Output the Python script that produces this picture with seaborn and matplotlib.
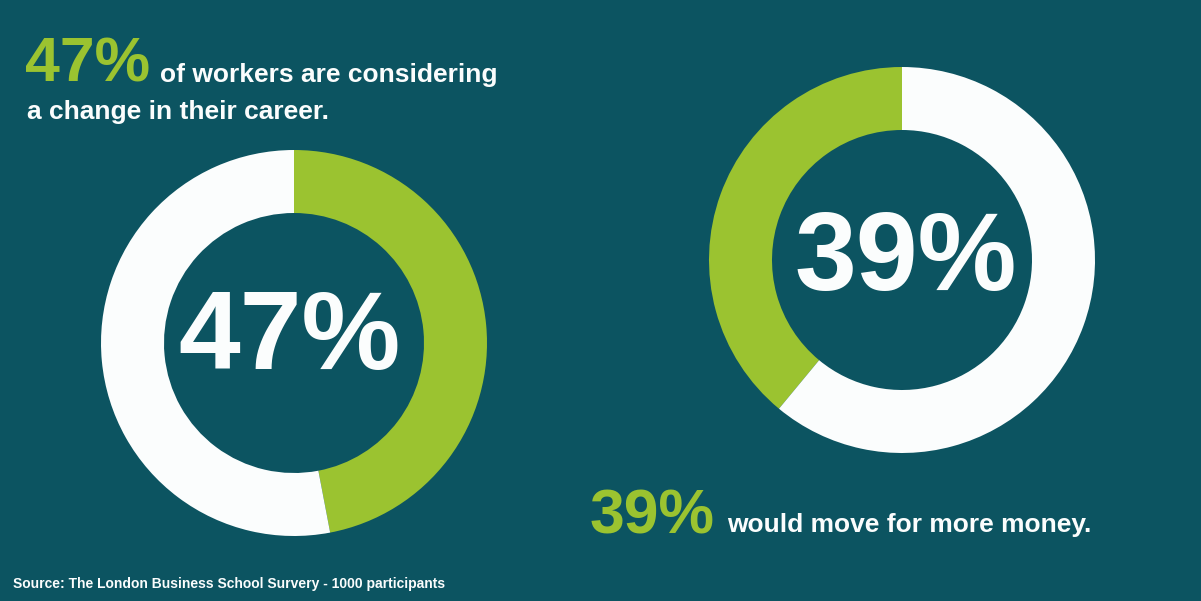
import matplotlib
matplotlib.use("Agg")
import matplotlib.pyplot as plt
import seaborn as sns

# ---- data ----
left_labels = ["Considering a change", "Not considering"]
left_values = [47, 53]
right_labels = ["Would move for money", "Would not"]
right_values = [39, 61]
left_headline = "47%"
left_caption_1 = "of workers are considering"
left_caption_2 = "a change in their career."
right_headline = "39%"
right_caption = "would move for more money."
source_text = "Source: The London Business School Survery - 1000 participants"

BG = "#0c5461"
GREEN = "#9bc330"
WHITE = "#fbfdfd"

sns.set_theme(style="white")
plt.rcParams['font.family'] = ['Liberation Sans', 'DejaVu Sans']

W, H = 1201, 601
fig = plt.figure(figsize=(W / 100, H / 100), dpi=100)
fig.patch.set_facecolor(BG)
ax = fig.add_axes([0, 0, 1, 1])
ax.set_facecolor(BG)

def py(y):
    return H - y

palette = sns.color_palette([GREEN, WHITE])

# left donut: green clockwise from 12 o'clock
ax.pie(left_values, colors=palette, startangle=90, counterclock=False,
       center=(294, py(343)), radius=193,
       wedgeprops=dict(width=63, linewidth=0))
# right donut: green counter-clockwise from 12 o'clock
ax.pie(right_values, colors=palette, startangle=90, counterclock=True,
       center=(902, py(260)), radius=193,
       wedgeprops=dict(width=63, linewidth=0))

ax.set_xlim(0, W)
ax.set_ylim(0, H)
ax.set_aspect('equal')
ax.axis('off')

bold = dict(fontweight='bold')
# center labels
ax.text(290, py(340), left_headline, color=WHITE, fontsize=80, ha='center', va='center', **bold)
ax.text(906, py(261), right_headline, color=WHITE, fontsize=80, ha='center', va='center', **bold)

# top-left caption
ax.text(25, py(82), left_headline, color=GREEN, fontsize=45, ha='left', va='baseline', **bold)
ax.text(160, py(82), left_caption_1, color=WHITE, fontsize=19, ha='left', va='baseline', **bold)
ax.text(27, py(119), left_caption_2, color=WHITE, fontsize=19, ha='left', va='baseline', **bold)

# bottom-right caption
ax.text(590, py(533), right_headline, color=GREEN, fontsize=45, ha='left', va='baseline', **bold)
ax.text(727, py(532), right_caption, color=WHITE, fontsize=19, ha='left', va='baseline', **bold)

# source
ax.text(13, py(588), source_text, color=WHITE, fontsize=10, ha='left', va='baseline', **bold)

fig.savefig("out.png", dpi=100, facecolor=BG)
